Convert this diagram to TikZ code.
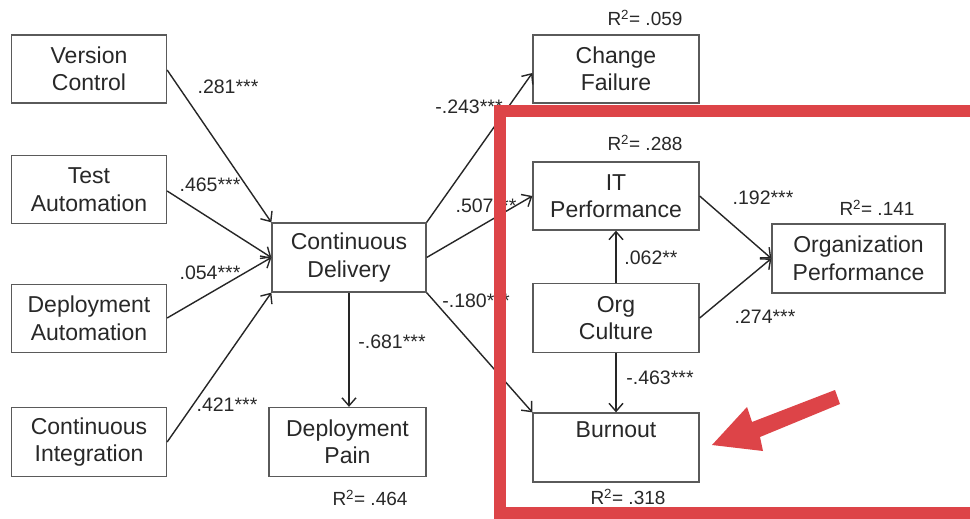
\documentclass[tikz,border=0pt]{standalone}
\usepackage{fontspec}
\setmainfont{Liberation Sans}
\usetikzlibrary{arrows.meta}
\definecolor{boxline}{RGB}{90,90,90}
\definecolor{txt}{RGB}{40,40,40}
\definecolor{hlred}{RGB}{221,68,72}
\tikzset{
  varbox/.style={draw=boxline, line width=1.3pt, fill=white, align=center,
    text=txt, font=\fontsize{23}{27.5}\selectfont, inner sep=0pt},
  conn/.style={draw=black!85, line width=1.4pt,
    -{Straight Barb[length=8pt,width=14pt,line width=1.4pt]}},
  coef/.style={text=txt, font=\fontsize{19.5}{22}\selectfont, inner sep=0pt},
  rsq/.style={text=txt, font=\fontsize{19}{22}\selectfont, inner sep=0pt},
}
\begin{document}
\begin{tikzpicture}[x=1pt,y=-1pt]
\useasboundingbox (0,0) rectangle (970,519);
\fill[white] (0,0) rectangle (970,519);

% boxes
\node[varbox, minimum width=155pt, minimum height=68pt] (vc) at (89,69) {Version\\Control};
\node[varbox, minimum width=155pt, minimum height=68pt] (ta) at (89,189.5) {Test\\Automation};
\node[varbox, minimum width=155pt, minimum height=68pt] (da) at (89,318.5) {Deployment\\Automation};
\node[varbox, minimum width=155pt, minimum height=69pt] (ci) at (89,442) {Continuous\\Integration};
\node[varbox, minimum width=154pt, minimum height=69pt] (cd) at (349,257.5) {Continuous\\Delivery};
\node[varbox, minimum width=157pt, minimum height=69pt] (dp) at (347.5,442) {Deployment\\Pain};
\node[varbox, minimum width=166pt, minimum height=68pt] (cf) at (616,69) {Change\\Failure};
\node[varbox, minimum width=166pt, minimum height=68pt] (itp) at (616,196) {IT\\Performance};
\node[varbox, minimum width=166pt, minimum height=69pt] (oc) at (616,318) {Org\\Culture};
\node[varbox, minimum width=166pt, minimum height=69pt] (bo) at (616,447.5) {Burnout\\\strut};
\node[varbox, minimum width=173pt, minimum height=69pt] (op) at (858.5,258.5) {Organization\\Performance};

% connectors
\draw[conn] (vc.east |- 0,70) -- (cd.north west);
\draw[conn] (ta.east |- 0,191) -- (cd.west);
\draw[conn] (da.east |- 0,318) -- (cd.west);
\draw[conn] (ci.east |- 0,442) -- (cd.south west);
\draw[conn] (cd.north east) -- (cf.west |- 0,73);
\draw[conn] (cd.east) -- (itp.west);
\draw[conn] (cd.south east) -- (bo.north west);
\draw[conn] (cd.south) -- (dp.north -| cd.south);
\draw[conn] (itp.east) -- (op.west);
\draw[conn] (oc.east) -- (op.west);
\draw[conn] (oc.north) -- (itp.south);
\draw[conn] (oc.south) -- (bo.north);

% coefficients
\node[coef] (l1) at (228,87) {.281***};
\node[coef] (l2) at (210,185) {.465***};
\node[coef] (l3) at (210,273) {.054***};
\node[coef] (l4) at (227,405) {.421***};
\node[coef] (l5) at (469,107) {-.243***};
\node[coef] (l6) at (486,206) {.507***};
\node[coef] (l7) at (476,301) {-.180***};
\node[coef] (l8) at (392,342) {-.681***};
\node[coef] (l9) at (763,198) {.192***};
\node[coef] (l10) at (651,258) {.062**};
\node[coef] (l11) at (765,317) {.274***};
\node[coef] (l12) at (660,378) {-.463***};

% R squared
\node[rsq] (r1) at (645,18) {R\textsuperscript{2}= .059};
\node[rsq] (r2) at (645,143) {R\textsuperscript{2}= .288};
\node[rsq] (r3) at (877,208) {R\textsuperscript{2}= .141};
\node[rsq] (r4) at (370,498) {R\textsuperscript{2}= .464};
\node[rsq] (r5) at (628,497) {R\textsuperscript{2}= .318};

% highlight
\draw[hlred, line width=12pt] (500,111) rectangle (1000,513);
\fill[hlred] (835,390) -- (840,404) -- (760,437) -- (763,451) -- (712,445)
  -- (747,407) -- (752,422) -- cycle;
\end{tikzpicture}
\end{document}
